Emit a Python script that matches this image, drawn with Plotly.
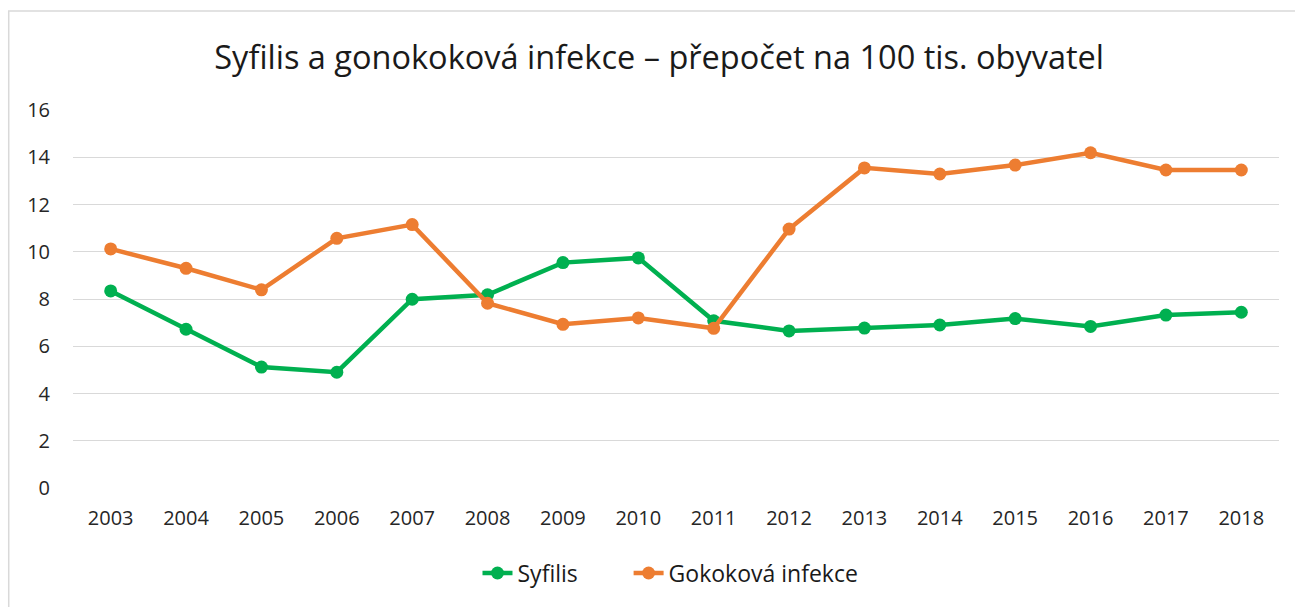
import plotly.graph_objects as go

years = ["2003", "2004", "2005", "2006", "2007", "2008", "2009", "2010",
         "2011", "2012", "2013", "2014", "2015", "2016", "2017", "2018"]
syfilis = [8.34, 6.72, 5.12, 4.90, 7.99, 8.18, 9.54, 9.74,
           7.08, 6.65, 6.77, 6.90, 7.17, 6.84, 7.32, 7.44]
gono = [10.12, 9.30, 8.39, 10.57, 11.15, 7.82, 6.93, 7.20,
        6.76, 10.96, 13.55, 13.29, 13.67, 14.19, 13.46, 13.46]

title_text = "Syfilis a gonokoková infekce – přepočet na 100 tis. obyvatel"
names = ["Syfilis", "Gokoková infekce"]
colors = ["#00B050", "#ED7D31"]
legend_ids = ["legend", "legend2"]

FONT = "Open Sans"

fig = go.Figure()
for name, vals, col, lg in zip(names, [syfilis, gono], colors, legend_ids):
    fig.add_trace(go.Scatter(
        x=years, y=vals, name=name, mode="lines+markers",
        line=dict(color=col, width=4.5),
        marker=dict(color=col, size=13),
        legend=lg,
    ))

legend_font = dict(family=FONT, size=23, color="#1a1a1a")

fig.update_layout(
    width=1295, height=607,
    margin=dict(l=73, r=16, t=110, b=119),
    paper_bgcolor="white", plot_bgcolor="white",
    title=dict(text=title_text, x=0.509, xref="container", xanchor="center",
               y=1 - 58/607, yref="container", yanchor="middle",
               font=dict(family=FONT, size=32.5, color="#1a1a1a")),
    font=dict(family=FONT, size=20, color="#262626"),
    showlegend=True,
    legend=dict(orientation="h", x=0.3354, xanchor="left", y=-0.225,
                yanchor="middle", font=legend_font, bgcolor="rgba(0,0,0,0)"),
    legend2=dict(orientation="h", x=0.4607, xanchor="left", y=-0.225,
                 yanchor="middle", font=legend_font, bgcolor="rgba(0,0,0,0)"),
    xaxis=dict(type="category", range=[-0.5, 15.5], showgrid=False, zeroline=False,
               showline=False, ticks="", ticklabelstandoff=16,
               tickfont=dict(family=FONT, size=20, color="#262626")),
    yaxis=dict(range=[0, 16], dtick=2, tick0=0, showgrid=True, gridcolor="#D9D9D9",
               gridwidth=1.3, zeroline=False, showline=False, ticks="",
               ticklabelstandoff=22,
               tickfont=dict(family=FONT, size=20, color="#262626")),
)

fig.add_shape(type="rect", xref="paper", yref="paper",
              x0=-0.0533, x1=1.03, y0=-0.35, y1=1.2619,
              line=dict(color="#D9D9D9", width=1.5), fillcolor="rgba(0,0,0,0)",
              layer="below")

fig.write_html("out.html", config={"displayModeBar": False},
               post_script="document.body.style.margin='0';")
